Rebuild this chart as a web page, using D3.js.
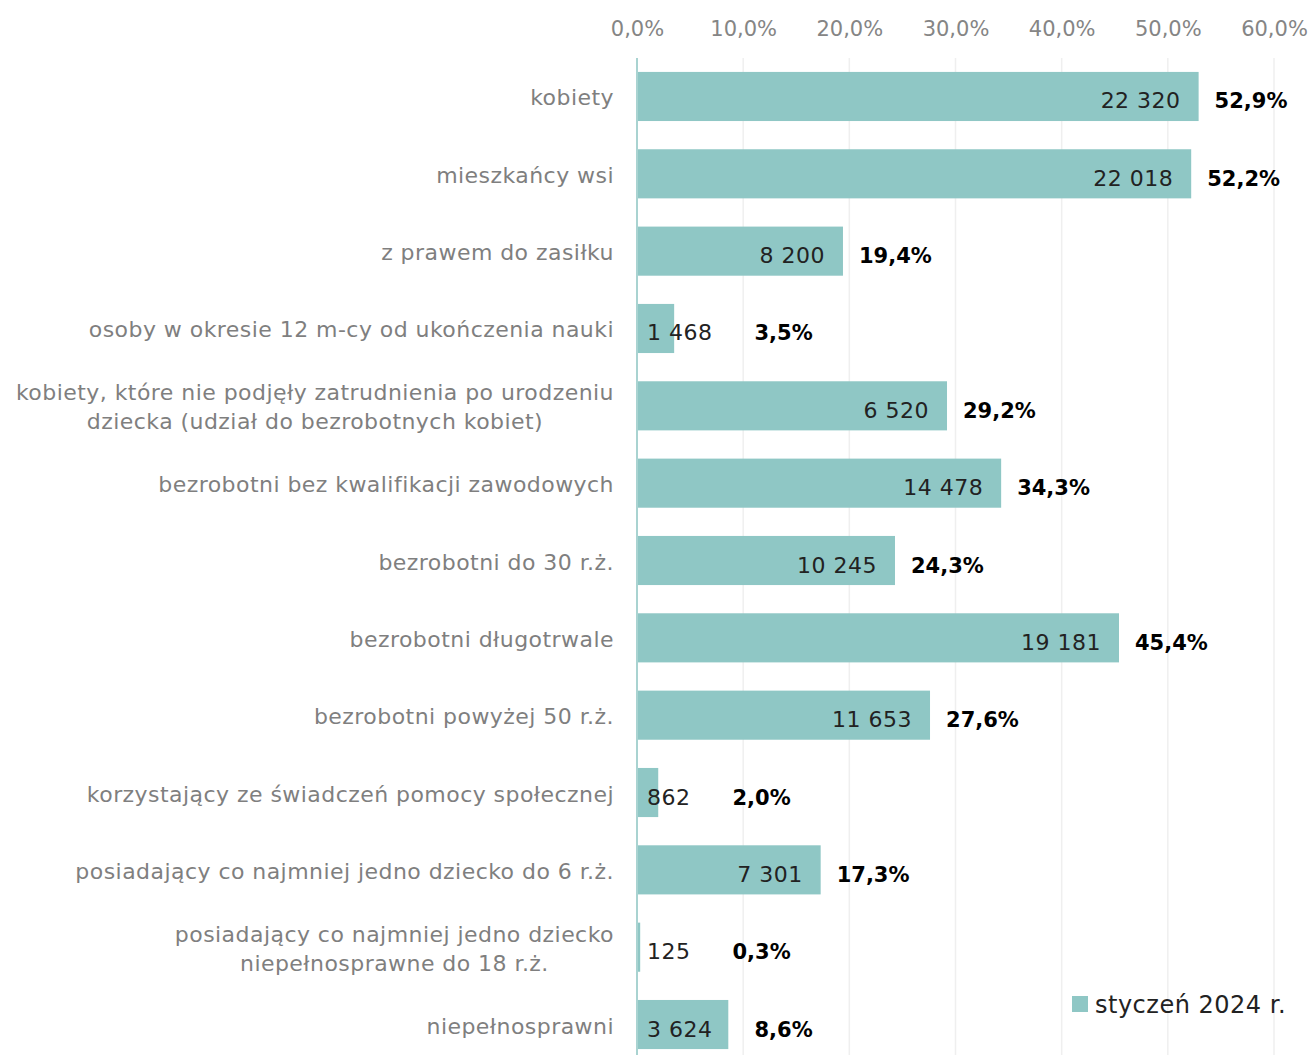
<!DOCTYPE html>
<html>
<head>
<meta charset="utf-8">
<script src="https://cdn.jsdelivr.net/npm/d3@7"></script>
<style>
  body { margin: 0; background: #fff; }
  svg text { font-family: "DejaVu Sans", sans-serif; }
</style>
</head>
<body>
<div id="chart"></div>
<script>
// Data
const categories = [
  "kobiety",
  "mieszkańcy wsi",
  "z prawem do zasiłku",
  "osoby w okresie 12 m-cy od ukończenia nauki",
  "kobiety, które nie podjęły zatrudnienia po urodzeniu\ndziecka (udział do bezrobotnych kobiet)",
  "bezrobotni bez kwalifikacji zawodowych",
  "bezrobotni do 30 r.ż.",
  "bezrobotni długotrwale",
  "bezrobotni powyżej 50 r.ż.",
  "korzystający ze świadczeń pomocy społecznej",
  "posiadający co najmniej jedno dziecko do 6 r.ż.",
  "posiadający co najmniej jedno dziecko\nniepełnosprawne do 18 r.ż.",
  "niepełnosprawni"
];
const counts = [22320, 22018, 8200, 1468, 6520, 14478, 10245, 19181, 11653, 862, 7301, 125, 3624];
const shares = [0.529, 0.522, 0.194, 0.035, 0.292, 0.343, 0.243, 0.454, 0.276, 0.020, 0.173, 0.003, 0.086];
const xTicks = [0, 0.1, 0.2, 0.3, 0.4, 0.5, 0.6];
const seriesName = "styczeń 2024 r.";

const W = 1309, H = 1055;
const barColor = "#8fc7c5";

const locale = d3.formatLocale({decimal: ",", thousands: " ", grouping: [3], currency: ["", " zł"]});
const fmtPct = locale.format(".1%");
const fmtNum = locale.format(",d");

const rows = categories.map((c, i) => ({cat: c, count: counts[i], share: shares[i]}));

const x = d3.scaleLinear().domain([0, 0.6]).range([637, 1274]);
const y = d3.scaleBand().domain(categories).range([58, 1063]).paddingInner(0.365).paddingOuter(0.18);

const svg = d3.select("#chart").append("svg")
  .attr("width", W).attr("height", H);

// Grid
svg.append("g").selectAll("line")
  .data(xTicks.slice(1))
  .join("line")
    .attr("x1", d => x(d)).attr("x2", d => x(d))
    .attr("y1", 58).attr("y2", H)
    .attr("stroke", "#efefef").attr("stroke-width", 1.5);

// Top axis
const xAxis = svg.append("g")
  .attr("transform", "translate(0, 36)")
  .call(d3.axisTop(x).tickValues(xTicks).tickFormat(fmtPct).tickSize(0).tickPadding(0));
xAxis.select(".domain").remove();
xAxis.selectAll("text")
  .attr("fill", "#858585")
  .style("font-size", "21px")
  .style("font-family", "DejaVu Sans, sans-serif");

// Bars
svg.append("g").selectAll("rect")
  .data(rows)
  .join("rect")
    .attr("x", x(0))
    .attr("y", d => y(d.cat))
    .attr("width", d => x(d.share) - x(0))
    .attr("height", y.bandwidth())
    .attr("fill", barColor);

// Baseline
svg.append("line")
  .attr("x1", x(0)).attr("x2", x(0))
  .attr("y1", 58).attr("y2", H)
  .attr("stroke", "#a9d3d1").attr("stroke-width", 2);

// Category labels
const catG = svg.append("g").selectAll("text")
  .data(rows)
  .join("text")
    .attr("fill", "#7f7f7f")
    .style("font-size", "22px")
    .style("letter-spacing", "0.45px");

catG.each(function(d) {
  const lines = d.cat.split("\n");
  const t = d3.select(this);
  const cy = y(d.cat) + y.bandwidth() / 2;
  const lh = 29;
  lines.forEach((ln, j) => {
    t.append("tspan")
      .attr("x", 614)
      .attr("y", cy + (j - (lines.length - 1) / 2) * lh + 9)
      .attr("text-anchor", lines.length > 1 && j > 0 ? "middle" : "end")
      .text(ln);
  });
});
// centre wrapped second lines under the first line
catG.each(function(d) {
  const spans = d3.select(this).selectAll("tspan").nodes();
  if (spans.length > 1) {
    const w0 = spans[0].getComputedTextLength();
    d3.select(spans[1]).attr("x", 614 - w0 / 2);
  }
});

// Value labels and percentages
const lab = svg.append("g").selectAll("g")
  .data(rows)
  .join("g");

lab.each(function(d) {
  const g = d3.select(this);
  const cy = y(d.cat) + y.bandwidth() / 2 + 12;
  const barEnd = x(d.share);
  const vt = g.append("text")
    .attr("fill", "#222")
    .style("font-size", "22px")
    .style("letter-spacing", "0.5px")
    .text(fmtNum(d.count));
  const w = vt.node().getComputedTextLength();
  const inside = barEnd - 18 - w >= x(0) + 9;
  const vx = inside ? barEnd - 18 - w : x(0) + 10;
  vt.attr("x", vx).attr("y", cy);
  const px = inside ? barEnd + 16 : Math.max(barEnd + 16, vx + w + 42);
  g.append("text")
    .attr("x", px).attr("y", cy)
    .attr("fill", "#000")
    .style("font-size", "21px")
    .style("font-weight", "bold")
    .text(fmtPct(d.share));
});

// Legend
const leg = svg.append("g").attr("transform", "translate(1072, 996)");
leg.append("rect").attr("width", 16).attr("height", 16).attr("fill", barColor);
leg.append("text")
  .attr("x", 23).attr("y", 17)
  .attr("fill", "#222")
  .style("font-size", "24px")
  .style("letter-spacing", "0.5px")
  .text(seriesName);
</script>
</body>
</html>
